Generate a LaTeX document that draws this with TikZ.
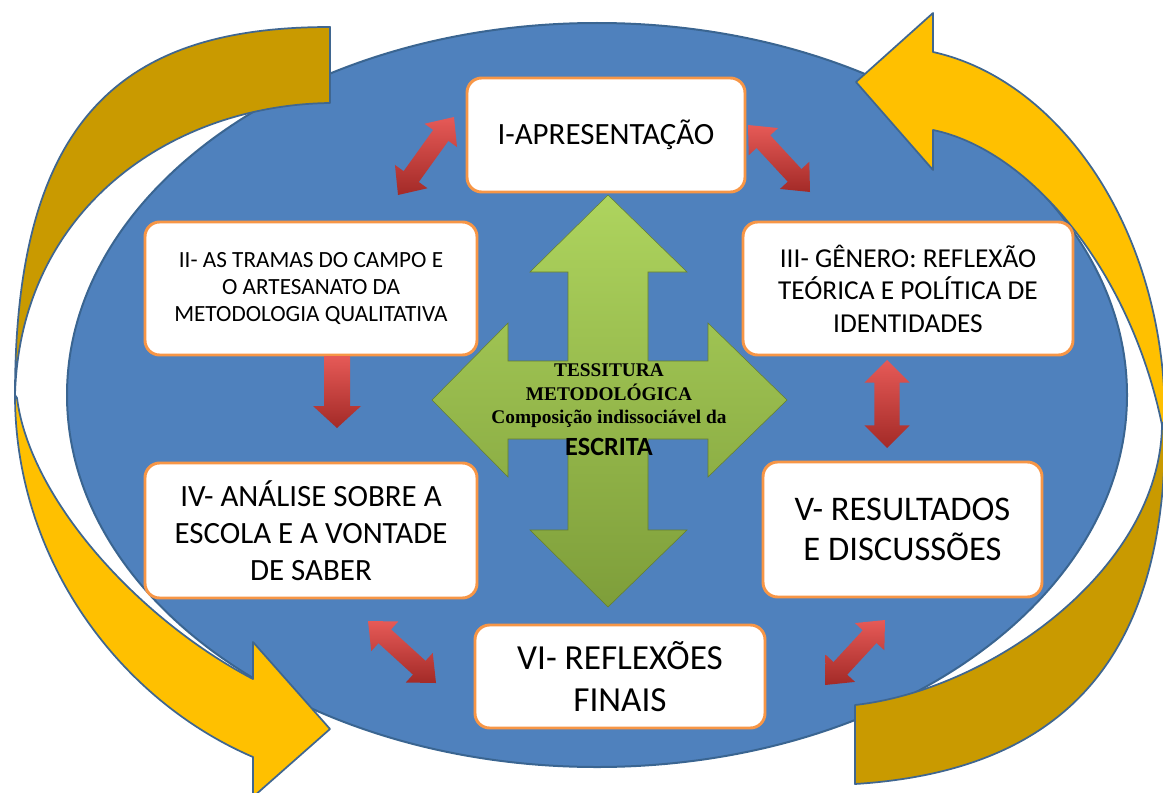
\documentclass[tikz,border=0pt]{standalone}
\usepackage{fontspec}
\setmainfont{Carlito}
\newfontfamily\timesbf{Liberation Serif}
\usetikzlibrary{calc}
\definecolor{ellfill}{HTML}{4F81BD}
\definecolor{elldraw}{HTML}{3A6591}
\definecolor{yelbright}{HTML}{FFC000}
\definecolor{yeldark}{HTML}{C99A00}
\definecolor{yeledge}{HTML}{3F6690}
\definecolor{boxorange}{HTML}{F79646}
\definecolor{greentop}{HTML}{AED45E}
\definecolor{greenbot}{HTML}{7E9E3A}
\definecolor{redlight}{HTML}{E65A57}
\definecolor{reddark}{HTML}{A32A27}
\tikzset{
  box/.style={draw=boxorange, line width=2.2pt, fill=white, rounded corners=11pt,
              align=center, inner sep=0pt, text=black},
  yelbrightfill/.style={fill=yelbright, draw=yeledge, line width=1.3pt, line join=round},
  yeldarkfill/.style={fill=yeldark, draw=yeledge, line width=1.3pt, line join=round},
  redfill/.style={top color=redlight, bottom color=reddark, draw=none},
}
\newcommand\redarr[5]{%
  \coordinate (#1h) at ($(#1)!#5!(#2)$);
  \coordinate (#2h) at ($(#2)!#5!(#1)$);
  \path[redfill] (#1)
    -- ($(#1h)!#4!90:(#2)$) -- ($(#1h)!#3!90:(#2)$)
    -- ($(#2h)!#3!-90:(#1)$) -- ($(#2h)!#4!-90:(#1)$)
    -- (#2)
    -- ($(#2h)!#4!90:(#1)$) -- ($(#2h)!#3!90:(#1)$)
    -- ($(#1h)!#3!-90:(#2)$) -- ($(#1h)!#4!-90:(#2)$)
    -- cycle;
}
\begin{document}
\begin{tikzpicture}[x=0.75pt, y=-0.75pt]
\useasboundingbox (0,0) rectangle (1163,792);
\clip (0,0) rectangle (1163,792);
\fill[white] (0,0) rectangle (1163,792);

% blue ellipse
\path[fill=ellfill, draw=elldraw, line width=1.5pt] (597,395) ellipse [x radius=530, y radius=372];

% left curved arrow
\path[yeldarkfill] (330,27) .. controls (130,27) and (15,110) .. (15,395)
   .. controls (20,210) and (170,105) .. (330,103) -- cycle;
\path[yelbrightfill] (15,395) .. controls (15,560) and (120,700) .. (253,757)
   -- (253,797) -- (330,729) -- (253,642) -- (253,679)
   .. controls (140,620) and (30,500) .. (17,398) -- cycle;

% right curved arrow
\path[yelbrightfill] (856,82) -- (933,13) -- (933,52)
   .. controls (1060,80) and (1165,230) .. (1165,420)
   -- (1162,425)
   .. controls (1130,270) and (1030,150) .. (933,130) -- (933,170) -- cycle;
\path[yeldarkfill] (1165,420) .. controls (1168,640) and (1080,770) .. (855,784)
   -- (855,705) .. controls (990,690) and (1160,570) .. (1162,425) -- cycle;

% green four-way arrow
\shade[top color=greentop, bottom color=greenbot, draw=greenbot!80!black, line width=0.4pt]
  (608,195) -- (687,272) -- (648,272) -- (648,361) -- (708,361) -- (708,323)
  -- (787,400) -- (708,477) -- (708,439) -- (648,439) -- (648,530) -- (687,530)
  -- (608,607) -- (530,530) -- (568,530) -- (568,439) -- (508,439) -- (508,477)
  -- (432,400) -- (508,323) -- (508,361) -- (568,361) -- (568,272) -- (530,272) -- cycle;

\node[font=\timesbf\bfseries\fontsize{14.5}{17.6}\selectfont, align=center, inner sep=0pt]
  (tess) at (609,396) {TESSITURA\\METODOLÓGICA\\Composição indissociável da};
\node[font=\bfseries\fontsize{19.7}{20}\selectfont, inner sep=0pt] (escrita) at (609,447) {ESCRITA};

% boxes
\node[box, minimum width=208.5pt, minimum height=85.5pt, font=\fontsize{23.2}{27.8}\selectfont]
  (b1) at (606,135) {I-APRESENTAÇÃO};
\node[box, minimum width=249pt, minimum height=99.75pt, font=\fontsize{17.4}{20.6}\selectfont]
  (b2) at (311,288.5) {II- AS TRAMAS DO CAMPO E\\O ARTESANATO DA\\METODOLOGIA QUALITATIVA};
\node[box, minimum width=247.5pt, minimum height=99.75pt, font=\fontsize{20.5}{24.4}\selectfont]
  (b3) at (908,288.5) {III- GÊNERO: REFLEXÃO\\TEÓRICA E POLÍTICA DE\\IDENTIDADES};
\node[box, minimum width=249pt, minimum height=101.25pt, font=\fontsize{23.2}{27.8}\selectfont]
  (b4) at (311,530.5) {IV- ANÁLISE SOBRE A\\ESCOLA E A VONTADE\\DE SABER};
\node[box, minimum width=209.25pt, minimum height=101.25pt, font=\fontsize{25.9}{30}\selectfont]
  (b5) at (902.5,529.5) {V- RESULTADOS\\E DISCUSSÕES};
\node[box, minimum width=217.5pt, minimum height=77.25pt, font=\fontsize{26.4}{31.5}\selectfont]
  (b6) at (620,676.5) {VI- REFLEXÕES\\FINAIS};

% red arrows
\coordinate (ra) at (398,195); \coordinate (rb) at (454,117);
\redarr{ra}{rb}{7pt}{15pt}{17pt}
\coordinate (rc) at (748,125); \coordinate (rd) at (810,192);
\redarr{rc}{rd}{7pt}{15pt}{17pt}
\coordinate (re) at (368,621); \coordinate (rf) at (436,683);
\redarr{re}{rf}{7pt}{15pt}{17pt}
\coordinate (rg) at (885,620); \coordinate (rh) at (825,685);
\redarr{rg}{rh}{7pt}{15pt}{17pt}
\coordinate (ri) at (887,360); \coordinate (rj) at (887,448);
\redarr{ri}{rj}{9.5pt}{17pt}{17pt}

% single down arrow II -> IV
\coordinate (rk) at (337,356); \coordinate (rl) at (337,428);
\path[redfill] (324,356) -- (350,356) -- (350,406) -- (361,406) -- (rl)
  -- (313,406) -- (324,406) -- cycle;
\end{tikzpicture}
\end{document}
